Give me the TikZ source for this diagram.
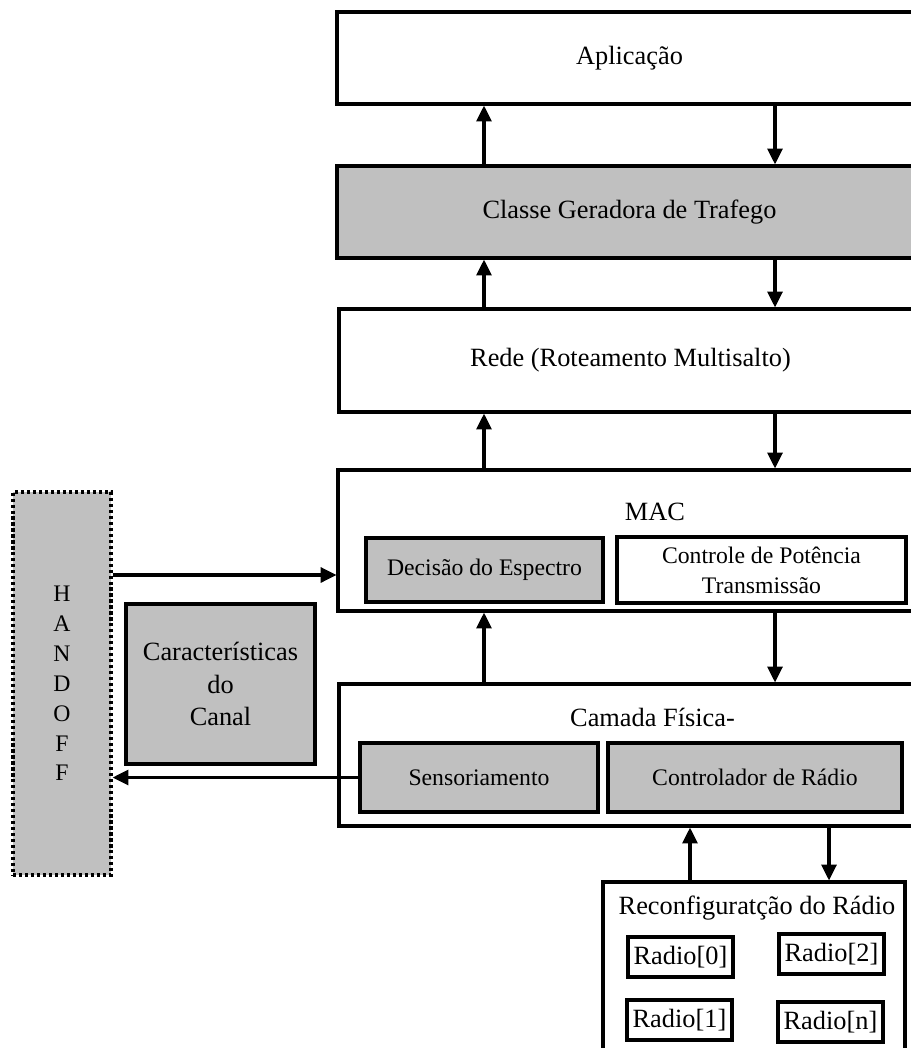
\documentclass[tikz,border=0pt]{standalone}
\usepackage{fontspec}
\setmainfont{Liberation Serif}
\usetikzlibrary{arrows.meta}
\definecolor{boxgray}{RGB}{192,192,192}
\tikzset{
	layer/.style={draw, line width=1.8pt, inner sep=0pt, minimum width=11.7cm, font=\fontsize{15}{18}\selectfont},
	part/.style={draw, line width=1.8pt, inner sep=0pt, align=center, font=\fontsize{13.5}{17}\selectfont},
	radiobox/.style={draw, line width=1.8pt, inner sep=0pt, minimum width=2.1cm, minimum height=0.8cm, font=\fontsize{15}{18}\selectfont},
	lbl/.style={inner sep=0pt, font=\fontsize{15}{18}\selectfont},
	flow/.style={line width=1.8pt, -{Triangle[length=9pt,width=8.5pt]}},
}

\begin{document}
\begin{tikzpicture}[x=0.02cm, y=-0.02cm]
		\useasboundingbox (0,0) rectangle (911,1048);
		\clip (0,0) rectangle (911,1048);

		\draw (629.5,58) node [layer, minimum height=1.84cm] (app) {Aplicação};
		\draw (629.5,212) node [layer, minimum height=1.84cm, fill=boxgray] (classe) {Classe Geradora de Trafego};
		\draw (630.5,360.5) node [layer, minimum height=2.06cm, minimum width=11.66cm] (rede) {Rede (Roteamento Multisalto)};
		\draw (630,540.5) node [layer, minimum height=2.82cm, minimum width=11.68cm] (mac) {};
		\draw ([shift={(25,-28.5)}]mac.center) node [lbl] {MAC};
		\draw (484.5,570) node [part, fill=boxgray, minimum width=4.74cm, minimum height=1.28cm] (decisao) {Decisão do Espectro};
		\draw (761.5,570) node [part, minimum width=5.78cm, minimum height=1.32cm] (potencia) {Controle de Potência\\Transmissão};

		\draw (630.5,755) node [layer, minimum height=2.84cm, minimum width=11.66cm] (fisica) {};
		\draw ([shift={(22,-38)}]fisica.center) node [lbl] {Camada Física-};
		\draw (479,777.5) node [part, fill=boxgray, minimum width=4.76cm, minimum height=1.38cm] (sensor) {Sensoriamento};
		\draw (755,777.5) node [part, fill=boxgray, minimum width=5.88cm, minimum height=1.38cm] (radioctl) {Controlador de Rádio};

		\draw (62,683.5) node [part, fill=boxgray, dash pattern=on 1.8pt off 1.6pt, minimum width=1.96cm, minimum height=7.66cm] (handoff) {H\\A\\N\\D\\O\\F\\F};
		\draw (220.5,684) node [part, fill=boxgray, minimum width=3.78cm, minimum height=3.2cm, font=\fontsize{15}{18.7}\selectfont] (canal) {Características\\do\\Canal};

		\draw (754,971) node [part, minimum width=6.04cm, minimum height=3.56cm] (reconf) {};
		\draw ([shift={(3,28)}]reconf.north) node [lbl] {Reconfiguratção do Rádio};
		\draw (680.5,957) node [radiobox] (radio0) {Radio[0]};
		\draw (831.5,954) node [radiobox] (radio2) {Radio[2]};
		\draw (679.5,1020) node [radiobox] (radio1) {Radio[1]};
		\draw (830.5,1022) node [radiobox] (radion) {Radio[n]};

		\coordinate (up) at (484,0);
		\coordinate (dn) at (775,0);
		\coordinate (rup) at (690,0);
		\coordinate (rdn) at (829,0);
		\coordinate (hin) at (0,575);

		\draw [line width=1.8pt]
			(classe.north -| up) edge [flow] (app.south -| up)
			(app.south -| dn) edge [flow] (classe.north -| dn)
			(rede.north -| up) edge [flow] (classe.south -| up)
			(classe.south -| dn) edge [flow] (rede.north -| dn)
			(mac.north -| up) edge [flow] (rede.south -| up)
			(rede.south -| dn) edge [flow] (mac.north -| dn)
			(fisica.north -| up) edge [flow] (mac.south -| up)
			(mac.south -| dn) edge [flow] (fisica.north -| dn)
			(reconf.north -| rup) edge [flow] (fisica.south -| rup)
			(fisica.south -| rdn) edge [flow] (reconf.north -| rdn)
			(handoff.east |- hin) edge [flow] (mac.west |- hin)
			(sensor.west) edge [flow] (handoff.east |- sensor.west)
		;
	\end{tikzpicture}
\end{document}
